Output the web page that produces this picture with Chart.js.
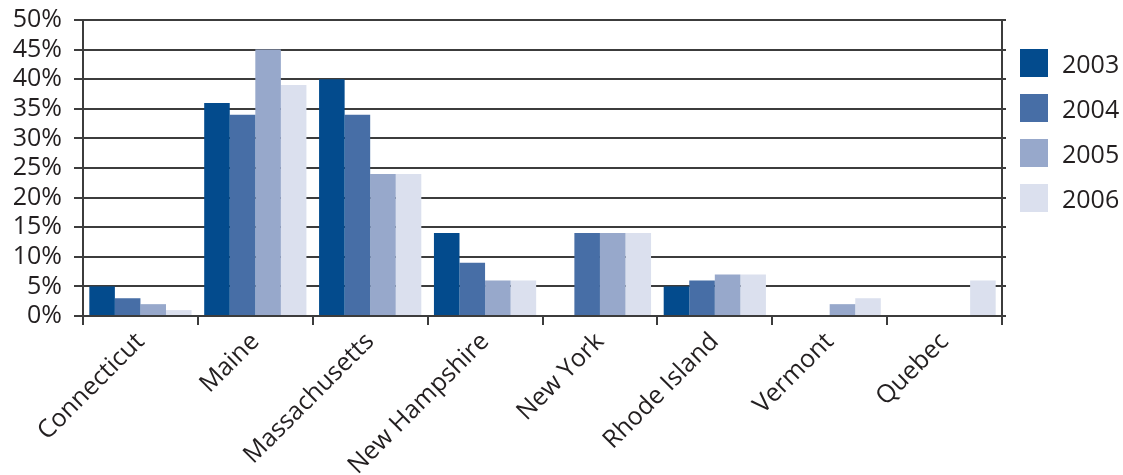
<!DOCTYPE html>
<html>
<head>
<meta charset="utf-8">
<script src="https://cdn.jsdelivr.net/npm/chart.js@4.4.0/dist/chart.umd.min.js"></script>
<style>
  html, body { margin: 0; padding: 0; background: #fff; }
  #wrap { position: relative; width: 1123px; height: 475px; }
  #leyenda { position: absolute; left: 1020px; top: 49px; font-family: "Open Sans", sans-serif; font-size: 25px; color: #231f20; }
  .item { display: flex; align-items: center; height: 28px; margin-bottom: 17px; }
  .caja { width: 28px; height: 28px; margin-right: 14px; }
</style>
</head>
<body>
<div id="wrap">
  <canvas id="grafico" width="1123" height="475"></canvas>
  <div id="leyenda"></div>
</div>
<script>
const regiones = ["Connecticut", "Maine", "Massachusetts", "New Hampshire", "New York", "Rhode Island", "Vermont", "Quebec"];
const anios = ["2003", "2004", "2005", "2006"];
const valores2003 = [5, 36, 40, 14, 0, 5, 0, 0];
const valores2004 = [3, 34, 34, 9, 14, 6, 0, 0];
const valores2005 = [2, 45, 24, 6, 14, 7, 2, 0];
const valores2006 = [1, 39, 24, 6, 14, 7, 3, 6];
const colores = ["#034b8d", "#476ea6", "#97a8cb", "#dbe0ee"];

const series = [valores2003, valores2004, valores2005, valores2006];
const fuente = { family: "'Open Sans', sans-serif", size: 25 };
const colorTexto = "#231f20";
const colorLinea = "#3c3c3c";

// leyenda en HTML a la derecha
const leyenda = document.getElementById("leyenda");
anios.forEach((a, i) => {
  const d = document.createElement("div");
  d.className = "item";
  d.innerHTML = `<div class="caja" style="background:${colores[i]}"></div><span>${a}</span>`;
  leyenda.appendChild(d);
});

const ctx = document.getElementById("grafico").getContext("2d");
new Chart(ctx, {
  type: "bar",
  data: {
    labels: regiones,
    datasets: anios.map((a, i) => ({
      label: a,
      data: series[i],
      backgroundColor: colores[i],
      borderWidth: 0,
      categoryPercentage: 0.89,
      barPercentage: 1
    }))
  },
  options: {
    responsive: false,
    animation: false,
    layout: { padding: { top: 20, right: 117, left: 0, bottom: 0 } },
    plugins: {
      legend: { display: false },
      tooltip: { enabled: false }
    },
    scales: {
      x: {
        grid: { drawOnChartArea: false, offset: true, tickLength: 9, color: colorLinea, lineWidth: 2 },
        border: { color: colorLinea, width: 2 },
        ticks: { color: colorTexto, font: fuente, minRotation: 45, maxRotation: 45, padding: 2, autoSkip: false },
        afterFit: s => { s.height = 159; s.paddingLeft = 0; s.paddingRight = 0; }
      },
      y: {
        min: 0,
        max: 50,
        grid: { color: colorLinea, lineWidth: 2, tickLength: 9 },
        border: { color: colorLinea, width: 2 },
        ticks: { stepSize: 5, autoSkip: false, color: colorTexto, font: fuente, padding: 12, callback: v => v + "%" },
        afterFit: s => { s.width = 83; s.paddingTop = 0; s.paddingBottom = 0; }
      },
      y2: {
        position: "right",
        min: 0,
        max: 50,
        grid: { drawOnChartArea: false, tickLength: 4, color: colorLinea, lineWidth: 2 },
        border: { color: colorLinea, width: 2 },
        ticks: { display: false, stepSize: 5, autoSkip: false },
        afterFit: s => { s.width = 4; s.paddingTop = 0; s.paddingBottom = 0; }
      }
    }
  }
});
</script>
</body>
</html>
